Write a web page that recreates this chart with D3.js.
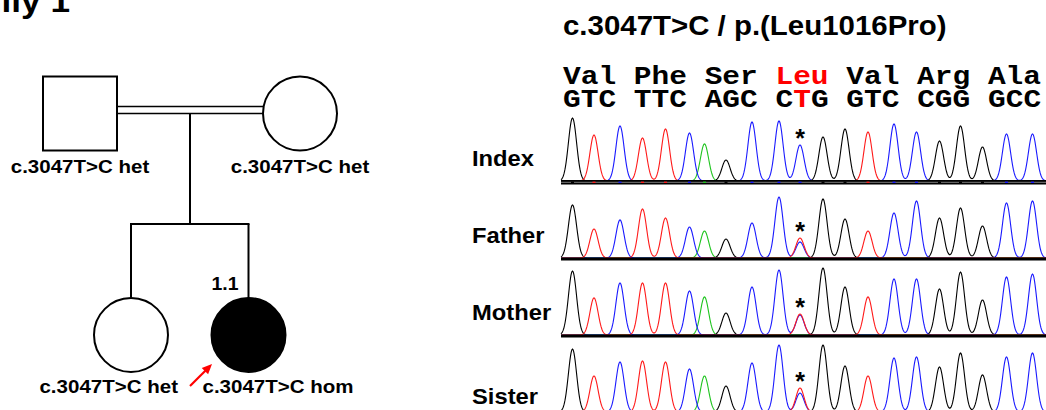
<!DOCTYPE html>
<html><head><meta charset="utf-8">
<script src="https://cdn.jsdelivr.net/npm/d3@7"></script>
<style>
html,body{margin:0;padding:0;background:#fff;}
svg{display:block;}
text{font-family:"Liberation Sans",Arial,sans-serif;font-weight:bold;fill:#000;}
.mono{font-family:"Liberation Mono","Courier New",monospace;font-weight:bold;white-space:pre;}
</style>
</head><body>
<svg id="fig" width="1046" height="410"></svg>
<script>
// ---------------- data ----------------
const familyTitle = "Family 1";
const variantTitle = "c.3047T>C / p.(Leu1016Pro)";
const aminoAcids = ["Val","Phe","Ser","Leu","Val","Arg","Ala"];
const codons = ["GTC","TTC","AGC","CTG","GTC","CGG","GCC"];
const variantCodon = 3;          // Leu codon
const variantBaseInCodon = 1;    // CTG -> CCG
const mutantBase = "C";
const rows = ["Index","Father","Mother","Sister"];
// peak centres in trace scan units (one per called base)
const peakPos = [27.5,49,75,97.5,120.5,144.5,159.5,181,207,234,255,278,300,323,349,371.5,394.5,415.5,437.5,461.5,487.5];
// peak heights (signal units) per sample, primary call at each base
const indexHeights  = [63,46,55,43,52,48,37,21,59,60,36,44,52,49,57,49,40,55,34,47,47];
const fatherHeights = [53,29,38,49,40,31,27,19,35,61,16,59,39,27,45,57,40,50,32,55,57];
const motherHeights = [64,37,52,52,52,44,38,22,48,65,20,67,48,38,56,56,46,63,35,58,61];
const sisterHeights = [63,36,50,51,50,43,36,26,49,67,19,67,46,36,54,55,45,59,37,55,59];
// wild-type T signal at the variant position
const wildTypeT = [0,20,21,24];
// pedigree
const pedigree = [
  {id:"father", sex:"M", affected:false, genotype:"c.3047T>C het"},
  {id:"mother", sex:"F", affected:false, genotype:"c.3047T>C het"},
  {id:"sister", sex:"F", affected:false, genotype:"c.3047T>C het"},
  {id:"index",  sex:"F", affected:true,  genotype:"c.3047T>C hom", label:"1.1", proband:true}
];

// ---------------- drawing ----------------
const svg = d3.select("#fig");
const baseColor = {G:"#000000", A:"#1fc41f", T:"#ff1a1a", C:"#1a1aff"};
const SX = 1.08; // horizontal text stretch of the original

function stext(parent, x, y, str, size, anchor, sx, cls){
  const g = parent.append("g").attr("transform", `translate(${x},${y}) scale(${sx||SX},1)`);
  const t = g.append("text").attr("font-size", size).attr("text-anchor", anchor||"start").text(str);
  if (cls) t.attr("class", cls);
  return t;
}

// title (cut at left edge, as in the original crop)
stext(svg, 70, 12, familyTitle, 32, "end", 1.1);

// ---- pedigree ----
const ped = svg.append("g");
const pedX = {father:80, mother:300, sister:131, index:248.5};
const genY = d3.scalePoint().domain([0,1]).range([113.5, 335]);
const R = 37;
const gen = {father:0, mother:0, sister:1, index:1};
const stroke = 2;
// marriage (consanguineous double line)
[-3.5, 3.5].forEach(o => {
  ped.append("line").attr("x1", pedX.father+R).attr("x2", pedX.mother-R)
    .attr("y1", genY(0)+o-3.5).attr("y2", genY(0)+o-3.5)
    .attr("stroke","#000").attr("stroke-width",1.6);
});
const dropX = (pedX.father+pedX.mother)/2;
const sibY = 224;
ped.append("line").attr("x1",dropX).attr("x2",dropX).attr("y1",genY(0)).attr("y2",sibY)
  .attr("stroke","#000").attr("stroke-width",stroke);
ped.append("line").attr("x1",pedX.sister-1).attr("x2",pedX.index+1).attr("y1",sibY).attr("y2",sibY)
  .attr("stroke","#000").attr("stroke-width",stroke);
["sister","index"].forEach(id => {
  ped.append("line").attr("x1",pedX[id]).attr("x2",pedX[id]).attr("y1",sibY).attr("y2",genY(1)-R)
    .attr("stroke","#000").attr("stroke-width",stroke);
});
pedigree.forEach(p => {
  const cx = pedX[p.id], cy = genY(gen[p.id]);
  if (p.sex === "M") {
    ped.append("rect").attr("x",cx-R).attr("y",cy-R).attr("width",2*R).attr("height",2*R)
      .attr("fill", p.affected ? "#000" : "#fff").attr("stroke","#000").attr("stroke-width",stroke);
  } else {
    ped.append("circle").attr("cx",cx).attr("cy",cy).attr("r",R)
      .attr("fill", p.affected ? "#000" : "#fff").attr("stroke","#000").attr("stroke-width",stroke);
  }
  if (gen[p.id] === 0) {
    stext(ped, cx, cy+R+22, p.genotype, 19, "middle");
  } else if (p.proband) {
    stext(ped, cx-46, 393, p.genotype, 19, "start");
  } else {
    stext(ped, cx+47, 393, p.genotype, 19, "end");
  }
  if (p.label) stext(ped, cx-10, 290, p.label, 18, "end");
  if (p.proband) {
    const tip = [cx-36.5, 364], tail = [cx-58.5, 386];
    const dx = tip[0]-tail[0], dy = tip[1]-tail[1], L = Math.hypot(dx,dy);
    const ux = dx/L, uy = dy/L, px = -uy, py = ux, hl = 10, hw = 4.5;
    ped.append("line").attr("x1",tail[0]).attr("y1",tail[1])
      .attr("x2",tip[0]-ux*hl*0.8).attr("y2",tip[1]-uy*hl*0.8)
      .attr("stroke","#ff0000").attr("stroke-width",2.2);
    ped.append("path").attr("fill","#ff0000").attr("d", d3.line()([
      tip, [tip[0]-ux*hl+px*hw, tip[1]-uy*hl+py*hw], [tip[0]-ux*hl-px*hw, tip[1]-uy*hl-py*hw]
    ]) + "Z");
  }
});

// ---- chromatograms ----
stext(svg, 563, 35, variantTitle, 27, "start", 1.09);

const seq = codons.join("").split("");
const variantIdx = variantCodon*3 + variantBaseInCodon;

// amino acid + codon header (monospace)
const aaText = stext(svg, 563, 84, "", 26, "start", 1.135, "mono");
aminoAcids.forEach((aa,i) => {
  aaText.append("tspan").attr("fill", i===variantCodon ? "#ff0000" : "#000")
    .text(aa + (i < aminoAcids.length-1 ? " " : ""));
});
const cdText = stext(svg, 563, 107, "", 26, "start", 1.135, "mono");
codons.forEach((c,i) => {
  c.split("").forEach((b,j) => {
    cdText.append("tspan").attr("fill", (i===variantCodon && j===variantBaseInCodon) ? "#ff0000" : "#000").text(b);
  });
  if (i < codons.length-1) cdText.append("tspan").text(" ");
});

const x = d3.scaleLinear().domain([0, 501]).range([545, 1046]);
const rowBase = d3.scalePoint().domain(rows).range([181, 412]);
const heightsByRow = [indexHeights, fatherHeights, motherHeights, sisterHeights];
const sigma = 4.1;
const samples = d3.range(16, 501.01, 0.5);

rows.forEach((row, r) => {
  const base = rowBase(row);
  const y = d3.scaleLinear().domain([0, 70]).range([base, base-70]);
  const peaks = peakPos.map((p,i) => ({pos:p, h:heightsByRow[r][i], b: i===variantIdx ? mutantBase : seq[i]}));
  if (wildTypeT[r] > 0) peaks.push({pos:peakPos[variantIdx], h:wildTypeT[r], b:seq[variantIdx]});
  const g = svg.append("g");
  ["G","A","C","T"].forEach(b => {
    const ps = peaks.filter(p => p.b === b);
    if (!ps.length) return;
    const trace = samples.map(s => [s, d3.sum(ps, p => p.h*Math.exp(-((s-p.pos)**2)/(2*sigma*sigma)))]);
    g.append("path").attr("fill","none").attr("stroke", baseColor[b]).attr("stroke-width",1.1)
      .attr("d", d3.line().x(d => x(d[0])).y(d => y(d[1]))(trace));
  });
  // baseline
  if (r === 0) {
    g.append("rect").attr("x", x(16)).attr("y", base-1).attr("width", x(501)-x(16)).attr("height", 4.5).attr("fill","#000");
    g.append("line").attr("x1",x(16)).attr("x2",x(501)).attr("y1",base+1.3).attr("y2",base+1.3)
      .attr("stroke","#9a9a9a").attr("stroke-width",0.8);
    peaks.forEach(p => {
      g.append("rect").attr("x", x(p.pos)-1.5).attr("y", base+0.6).attr("width",3).attr("height",1.4)
        .attr("fill", baseColor[p.b]);
    });
  } else {
    g.append("line").attr("x1",x(16)).attr("x2",x(501)).attr("y1",base+1).attr("y2",base+1)
      .attr("stroke","#000").attr("stroke-width",3);
  }
  // star above variant
  const vTop = d3.max(peaks.filter(p => p.pos === peakPos[variantIdx]), p => p.h);
  stext(g, x(peakPos[variantIdx]), y(vTop) + 2, "*", 25, "middle", 1.0);
  // row label
  stext(svg, 472, row === "Sister" ? base-8 : base-15, row, 22, "start");
});
</script>
</body></html>
